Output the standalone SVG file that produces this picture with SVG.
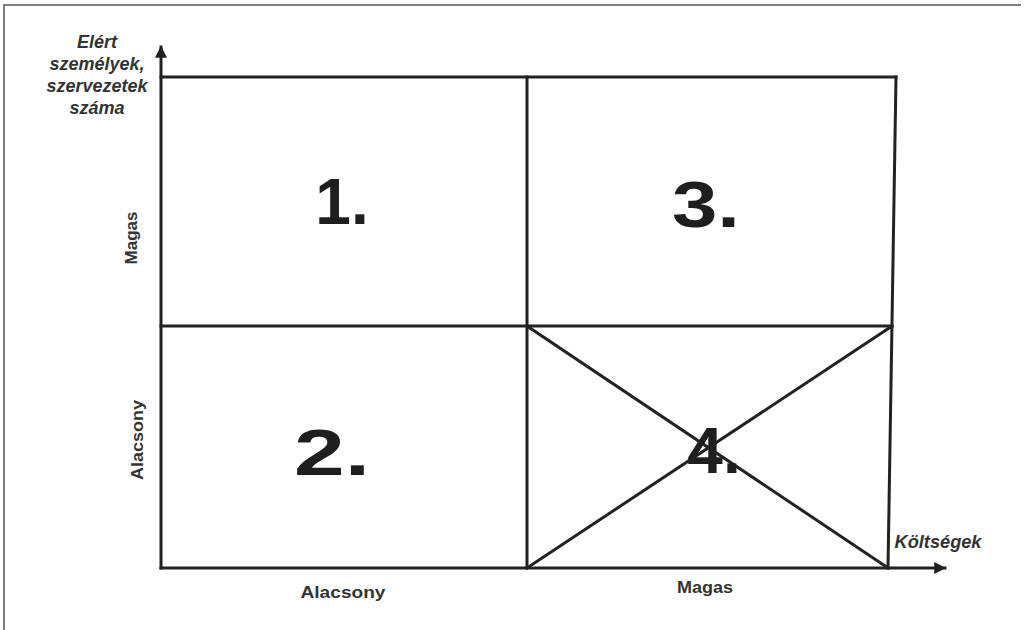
<svg xmlns="http://www.w3.org/2000/svg" width="1025" height="630" viewBox="0 0 1025 630">
<style>
.ln{stroke:#222;stroke-width:3;fill:none;stroke-linecap:square}
.big{font-family:"Liberation Sans",Arial,sans-serif;font-weight:bold;font-size:64px;fill:#1e1e1e;text-anchor:middle}
.lab{font-family:"Liberation Sans",Arial,sans-serif;font-weight:bold;font-size:17px;fill:#333;text-anchor:middle}
.it{font-family:"Liberation Sans",Arial,sans-serif;font-weight:bold;font-style:italic;font-size:18px;fill:#333;text-anchor:middle}
</style>
<defs>
<marker id="arr" viewBox="0 0 10 10" refX="9" refY="5" markerWidth="4" markerHeight="4" orient="auto" markerUnits="strokeWidth">
<path d="M0,0 L10,5 L0,10 z" fill="#222"/>
</marker>
</defs>
<rect width="1025" height="630" fill="#fff"/>
<path d="M4,630 V5 H1021" stroke="#555" stroke-width="1.5" fill="none"/>
<g id="connectors">
<line class="ln" x1="161" y1="568" x2="161" y2="47" marker-end="url(#arr)"/>
<line class="ln" x1="161" y1="568" x2="945" y2="568" marker-end="url(#arr)"/>
</g>
<g id="grid">
<line class="ln" x1="161" y1="77" x2="896" y2="77"/>
<line class="ln" x1="161" y1="326" x2="892" y2="326"/>
<line class="ln" x1="527" y1="77" x2="527" y2="568"/>
<line class="ln" x1="896" y1="77" x2="888" y2="568"/>
<line class="ln" x1="527" y1="326" x2="888" y2="568"/>
<line class="ln" x1="527" y1="568" x2="892" y2="326"/>
</g>
<g id="q1"><text class="big" x="342" y="224">1.</text></g>
<g id="q3"><text class="big" x="706" y="227" textLength="68" lengthAdjust="spacingAndGlyphs">3.</text></g>
<g id="q2"><text class="big" x="332" y="475" textLength="76" lengthAdjust="spacingAndGlyphs">2.</text></g>
<g id="q4"><text class="big" x="714" y="473">4.</text></g>
<g id="ylabel">
<text class="it"><tspan x="97" y="48">Elért</tspan><tspan x="97" y="70">személyek,</tspan><tspan x="97" y="92">szervezetek</tspan><tspan x="97" y="114">száma</tspan></text>
</g>
<g id="xlabel"><text class="it" x="938" y="548" textLength="87" lengthAdjust="spacingAndGlyphs">Költségek</text></g>
<g id="ymagas"><text class="lab" transform="translate(137,238) rotate(-90)">Magas</text></g>
<g id="yalacsony"><text class="lab" transform="translate(143,440) rotate(-90)" textLength="80" lengthAdjust="spacingAndGlyphs">Alacsony</text></g>
<g id="xalacsony"><text class="lab" x="343" y="598" textLength="85" lengthAdjust="spacingAndGlyphs">Alacsony</text></g>
<g id="xmagas"><text class="lab" x="705" y="593" textLength="56" lengthAdjust="spacingAndGlyphs">Magas</text></g>
</svg>
